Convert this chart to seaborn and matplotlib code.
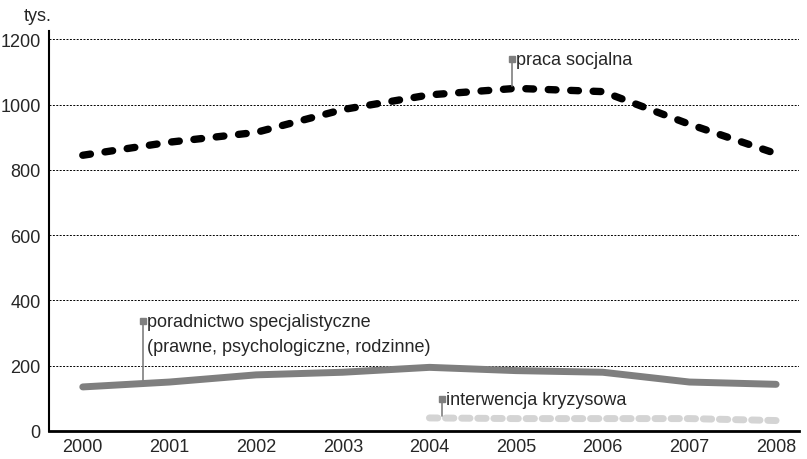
import pandas as pd
import matplotlib.pyplot as plt
import seaborn as sns

sns.set_style("white")
plt.rcParams['font.family'] = ['Liberation Sans Narrow', 'Liberation Sans', 'DejaVu Sans']

# values in thousands
years = [2000, 2001, 2002, 2003, 2004, 2005, 2006, 2007, 2008]
praca = [845, 885, 915, 985, 1030, 1050, 1040, 940, 850]
poradnictwo = [135, 150, 172, 180, 195, 185, 180, 150, 143]
interw_years = [2004, 2005, 2006, 2007, 2008]
interwencja = [40, 38, 38, 38, 32]

fig = plt.figure(figsize=(8.07, 4.6), dpi=100)
ax = fig.add_axes([0.0607, 0.0609, 0.93, 0.869])

sns.lineplot(x=years, y=praca, ax=ax, color="black", lw=5.3,
             dashes=False, solid_capstyle="round")
ax.lines[-1].set_dashes((1.05, 2.0))
ax.lines[-1].set_dash_capstyle("round")

sns.lineplot(x=years, y=poradnictwo, ax=ax, color="#7f7f7f", lw=5,
             solid_capstyle="round")

sns.lineplot(x=interw_years, y=interwencja, ax=ax, color="#d4d4d4", lw=5)
ax.lines[-1].set_dashes((1.2, 1.12))
ax.lines[-1].set_dash_capstyle("round")

ax.set_xlim(1999.61, 2008.27)
ax.set_ylim(0, 1225)
ax.set_xticks(years)
ax.set_xticklabels([str(y) for y in years])
ax.set_xticks([y + 0.5 for y in years[:-1]], minor=True)
ax.tick_params(axis="x", which="major", length=0, labelsize=13, pad=5)
ax.tick_params(axis="x", which="minor", length=6, width=1.2, color="black", direction="out")
ax.set_yticks([0, 200, 400, 600, 800, 1000, 1200])
ax.tick_params(axis="y", length=4, width=1, color="black", direction="out", labelsize=13, pad=2)

for v in [200, 400, 600, 800, 1000, 1200]:
    ax.axhline(v, color="black", lw=0.7, ls=(0, (2, 1.5)), zorder=0)

for s in ["top", "right"]:
    ax.spines[s].set_visible(False)
ax.spines["left"].set_color("black")
ax.spines["left"].set_linewidth(1.5)
ax.spines["bottom"].set_color("black")
ax.spines["bottom"].set_linewidth(2)

fig.text(0.03, 0.965, "tys.", fontsize=13, va="center", ha="left")

# annotations: gray square + leader line
def label(x, y_top, y_bot, text):
    ax.plot([x, x], [y_bot, y_top], color="#7f7f7f", lw=1.2, zorder=3)
    ax.plot([x], [y_top], marker="s", ms=4.5, color="#7f7f7f", zorder=3)
    ax.text(x + 0.05, y_top, text, fontsize=13, va="center", ha="left")

label(4.95 + 2000, 1139, 1058, "praca socjalna")
label(0.69 + 2000, 337, 150, "poradnictwo specjalistyczne")
ax.text(2000.74, 260, "(prawne, psychologiczne, rodzinne)", fontsize=13, va="center", ha="left")
label(4.14 + 2000, 98, 45, "interwencja kryzysowa")

fig.savefig("out.png", dpi=100)
